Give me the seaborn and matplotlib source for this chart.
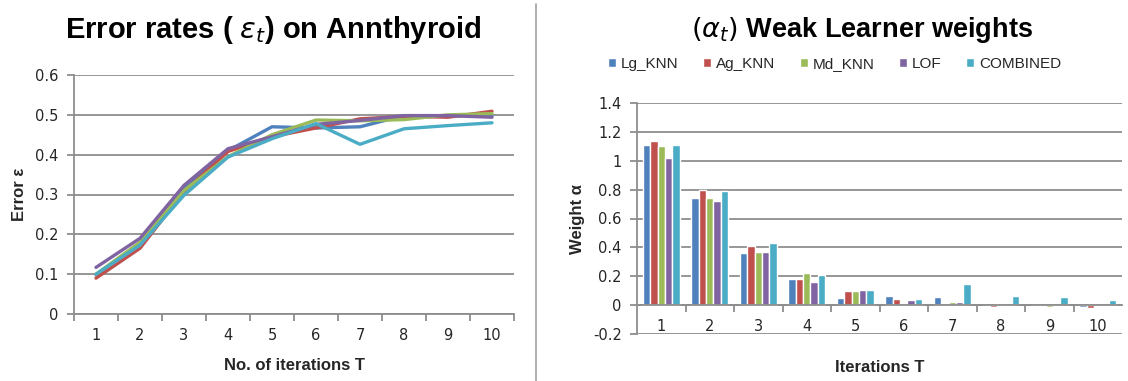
import matplotlib
matplotlib.use("Agg")
import matplotlib.pyplot as plt
import seaborn as sns
import pandas as pd
from matplotlib.ticker import FixedLocator

# ---- data -------------------------------------------------------------
iterations = [1, 2, 3, 4, 5, 6, 7, 8, 9, 10]
series_names = ["Lg_KNN", "Ag_KNN", "Md_KNN", "LOF", "COMBINED"]
colors = ["#4F81BD", "#C0504D", "#9BBB59", "#8064A2", "#4BACC6"]

# error rate per iteration
err_lg_knn = [0.098, 0.178, 0.318, 0.410, 0.470, 0.467, 0.470, 0.498, 0.498, 0.498]
err_ag_knn = [0.090, 0.165, 0.307, 0.408, 0.445, 0.467, 0.490, 0.496, 0.494, 0.509]
err_md_knn = [0.100, 0.180, 0.310, 0.395, 0.450, 0.487, 0.485, 0.488, 0.500, 0.503]
err_lof = [0.117, 0.190, 0.323, 0.415, 0.445, 0.476, 0.486, 0.498, 0.498, 0.494]
err_combined = [0.100, 0.173, 0.298, 0.394, 0.440, 0.478, 0.426, 0.465, 0.473, 0.480]

# weak learner weights per iteration
w_lg_knn = [1.11, 0.74, 0.36, 0.18, 0.05, 0.065, 0.053, 0.0, 0.0, -0.01]
w_ag_knn = [1.14, 0.80, 0.41, 0.18, 0.095, 0.044, 0.016, -0.012, 0.0, -0.02]
w_md_knn = [1.10, 0.74, 0.37, 0.22, 0.095, 0.016, 0.025, 0.012, -0.01, 0.0]
w_lof = [1.02, 0.72, 0.37, 0.16, 0.104, 0.035, 0.025, 0.0, 0.0, 0.0]
w_combined = [1.11, 0.79, 0.43, 0.21, 0.104, 0.044, 0.143, 0.065, 0.053, 0.035]

err_values = [err_lg_knn, err_ag_knn, err_md_knn, err_lof, err_combined]
w_values = [w_lg_knn, w_ag_knn, w_md_knn, w_lof, w_combined]

df_err = pd.DataFrame(
    [(it, name, v) for name, vals in zip(series_names, err_values)
     for it, v in zip(iterations, vals)],
    columns=["iteration", "series", "error"],
)
df_w = pd.DataFrame(
    [(str(it), name, v) for name, vals in zip(series_names, w_values)
     for it, v in zip(iterations, vals)],
    columns=["iteration", "series", "weight"],
)

# ---- style ------------------------------------------------------------
sns.set_theme(style="white")
plt.rcParams["font.family"] = ["DejaVu Sans"]
sans = ["Liberation Sans", "DejaVu Sans"]
GRID = "#8E8E8E"
TXT = "#262626"
palette = dict(zip(series_names, colors))

W, H = 1128, 381
fig = plt.figure(figsize=(W / 100, H / 100), dpi=100)


def box(l, t, r, b):
    return [l / W, 1 - b / H, (r - l) / W, (b - t) / H]


ax1 = fig.add_axes(box(74, 75, 514, 314))
ax2 = fig.add_axes(box(637, 103, 1122, 334))

# ---- left: error rates ------------------------------------------------
sns.lineplot(data=df_err, x="iteration", y="error", hue="series",
             palette=palette, hue_order=series_names, linewidth=2.4,
             legend=False, ax=ax1)
ax1.set_xlim(0.5, 10.5)
ax1.set_ylim(0, 0.6)
ax1.set_yticks([0, 0.1, 0.2, 0.3, 0.4, 0.5, 0.6])
ax1.set_yticklabels(["0", "0.1", "0.2", "0.3", "0.4", "0.5", "0.6"])
ax1.set_xticks(iterations)
ax1.xaxis.set_minor_locator(FixedLocator([x + 0.5 for x in range(0, 11)]))
ax1.set_xlabel("No. of iterations T", fontsize=12, fontweight="bold",
               family=sans, color=TXT, labelpad=11)
ax1.set_ylabel("Error \u03b5", fontsize=12, fontweight="bold",
               family=sans, color=TXT, labelpad=6)

# ---- right: weak learner weights --------------------------------------
sns.barplot(data=df_w, x="iteration", y="weight", hue="series",
            palette=palette, hue_order=series_names,
            order=[str(i) for i in iterations], width=0.76, gap=0,
            saturation=1, errorbar=None, ax=ax2)
ax2.set_xlim(-0.5, 9.5)
ax2.set_ylim(-0.2, 1.4)
ax2.set_yticks([-0.2, 0, 0.2, 0.4, 0.6, 0.8, 1.0, 1.2, 1.4])
ax2.set_yticklabels(["-0.2", "0", "0.2", "0.4", "0.6", "0.8", "1", "1.2", "1.4"])
ax2.xaxis.set_minor_locator(FixedLocator([x + 0.5 for x in range(0, 9)]))
ax2.spines["bottom"].set_position(("data", 0))
ax2.set_xlabel("Iterations T", fontsize=12, fontweight="bold",
               family=sans, color=TXT, labelpad=19)
ax2.set_ylabel("Weight \u03b1", fontsize=12, fontweight="bold",
               family=sans, color=TXT, labelpad=6)
sns.move_legend(ax2, "center", bbox_to_anchor=(0.407, 1.17), ncol=5,
                frameon=False, title=None, handlelength=0.55,
                handleheight=0.55, handletextpad=0.3, columnspacing=1.6,
                prop={"family": sans, "size": 11})
for t in ax2.get_legend().get_texts():
    t.set_color(TXT)

# ---- shared axis cosmetics -------------------------------------------
for ax in (ax1, ax2):
    ax.grid(axis="y", color=GRID, linewidth=1.3)
    ax.grid(axis="x", visible=False)
    ax.set_axisbelow(True)
    for side in ("top", "right"):
        ax.spines[side].set_visible(False)
    for side in ("left", "bottom"):
        ax.spines[side].set_color(GRID)
        ax.spines[side].set_linewidth(1.3)
    ax.tick_params(axis="y", which="major", direction="out", length=5,
                   width=1.3, color=GRID, labelsize=10.5, labelcolor=TXT,
                   left=True, pad=6)
    ax.tick_params(axis="x", which="major", length=0, labelsize=10.5,
                   labelcolor=TXT, pad=10)
    ax.tick_params(axis="x", which="minor", direction="out", length=5,
                   width=1.3, color=GRID, bottom=True)

# ---- titles and separator ---------------------------------------------
fig.text(273 / W, 1 - 30 / H, r"Error rates ( $\varepsilon_t$) on Annthyroid",
         ha="center", va="center", fontsize=21, fontweight="bold",
         family=sans, color="black")
fig.text(862 / W, 1 - 30 / H, r"$(\alpha_t)$ Weak Learner weights",
         ha="center", va="center", fontsize=19.5, fontweight="bold",
         family=sans, color="black")
fig.add_artist(plt.Line2D([536 / W, 536 / W], [0, 1 - 4 / H],
                          color="#A0A0A0", linewidth=1.2))

fig.savefig("out.png", dpi=100)
